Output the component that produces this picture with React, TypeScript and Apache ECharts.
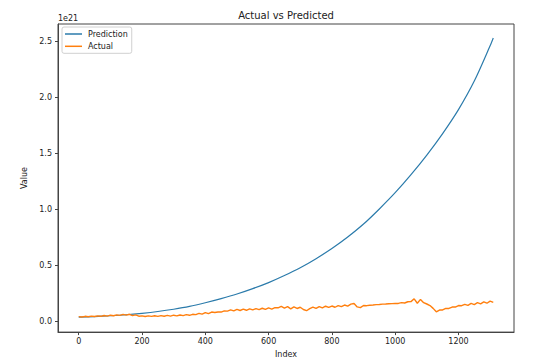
import React, { useEffect, useRef } from "react";
import * as echarts from "echarts";

// values are in units of 1e21
const TITLE = "Actual vs Predicted";
const X_NAME = "Index";
const Y_NAME = "Value";
const Y_OFFSET_TEXT = "1e21";
const SERIES_NAMES = ["Prediction", "Actual"];

const PRED_INDEX = [
  0, 50, 100, 150, 200, 250, 300, 350, 400, 450, 500, 550, 600, 650, 700, 750,
  800, 850, 900, 950, 1000, 1050, 1100, 1150, 1200, 1250, 1300, 1310,
];
const PREDICTION = [
  0.036, 0.042, 0.049, 0.058, 0.071, 0.087, 0.107, 0.132, 0.165, 0.202, 0.243,
  0.291, 0.345, 0.408, 0.478, 0.559, 0.649, 0.752, 0.868, 1.003, 1.148, 1.309,
  1.484, 1.676, 1.89, 2.145, 2.46, 2.53,
];

const ACTUAL_STEP = 10;
const ACTUAL = [
  0.041, 0.038, 0.044, 0.04, 0.046, 0.042, 0.048, 0.044, 0.051, 0.046,
  0.054, 0.049, 0.057, 0.052, 0.061, 0.055, 0.062, 0.05, 0.057, 0.045,
  0.048, 0.042, 0.048, 0.043, 0.049, 0.044, 0.05, 0.045, 0.052, 0.046,
  0.054, 0.048, 0.056, 0.05, 0.059, 0.053, 0.062, 0.059, 0.07, 0.063,
  0.077, 0.068, 0.082, 0.078, 0.083, 0.082, 0.093, 0.09, 0.101, 0.092,
  0.106, 0.096, 0.108, 0.098, 0.111, 0.101, 0.113, 0.104, 0.116, 0.106,
  0.119, 0.109, 0.122, 0.12, 0.133, 0.117, 0.13, 0.11, 0.128, 0.114,
  0.125, 0.105, 0.094, 0.113, 0.127, 0.115, 0.131, 0.119, 0.134, 0.123,
  0.136, 0.125, 0.14, 0.13, 0.145, 0.135, 0.153, 0.158, 0.128, 0.121,
  0.141, 0.139, 0.143, 0.145, 0.148, 0.15, 0.153, 0.154, 0.156, 0.157,
  0.16, 0.159, 0.166, 0.163, 0.174, 0.175, 0.2, 0.161, 0.195, 0.166,
  0.154, 0.14, 0.115, 0.084, 0.1, 0.101, 0.115, 0.114, 0.127, 0.127,
  0.14, 0.139, 0.151, 0.142, 0.159, 0.149, 0.166, 0.155, 0.173, 0.161,
  0.18, 0.169,
];

const X_MIN = -65.5;
const X_MAX = 1375.5;
const Y_MIN = -0.097;
const Y_MAX = 2.655;

const FONT = "DejaVu Sans";
const TEXT_COLOR = "#222";
const FRAME_COLOR = "#444";

export default function App() {
  const ref = useRef<HTMLDivElement>(null);

  useEffect(() => {
    if (!ref.current) return;
    const chart = echarts.init(ref.current, undefined, { renderer: "svg" });

    const predData = PRED_INDEX.map((x, i) => [x, PREDICTION[i]]);
    const actualData = ACTUAL.map((v, i) => [i * ACTUAL_STEP, v]);

    chart.setOption({
      animation: false,
      backgroundColor: "#fff",
      textStyle: { fontFamily: FONT },
      grid: {
        left: 58,
        right: 26,
        top: 24,
        bottom: 28,
        show: true,
        borderColor: FRAME_COLOR,
        borderWidth: 1,
        backgroundColor: "transparent",
      },
      graphic: [
        {
          type: "text",
          x: 286,
          y: 15,
          style: {
            text: TITLE,
            align: "center",
            verticalAlign: "middle",
            fontFamily: FONT,
            fontSize: 10,
            fill: TEXT_COLOR,
          },
        },
        {
          type: "text",
          x: 58,
          y: 22,
          style: {
            text: Y_OFFSET_TEXT,
            align: "left",
            verticalAlign: "bottom",
            fontFamily: FONT,
            fontSize: 8,
            fill: TEXT_COLOR,
          },
        },
      ],
      legend: {
        orient: "vertical",
        left: 62,
        top: 27,
        data: SERIES_NAMES,
        icon: "rect",
        itemWidth: 17,
        itemHeight: 1.5,
        itemGap: 2.3,
        padding: [2, 4, 2, 3],
        borderColor: "#d0d0d0",
        borderWidth: 1,
        borderRadius: 2,
        backgroundColor: "rgba(255,255,255,0.8)",
        textStyle: {
          fontFamily: FONT,
          fontSize: 8,
          color: TEXT_COLOR,
          lineHeight: 10,
          padding: [0, 0, 0, 1],
        },
      },
      xAxis: {
        type: "value",
        min: X_MIN,
        max: X_MAX,
        splitNumber: 7,
        minInterval: 200,
        maxInterval: 200,
        name: X_NAME,
        nameLocation: "middle",
        nameGap: 16,
        nameTextStyle: { fontFamily: FONT, fontSize: 8, color: TEXT_COLOR },
        axisLine: {
          show: true,
          onZero: false,
          lineStyle: { color: FRAME_COLOR, width: 1 },
        },
        axisTick: { show: true, length: 3, lineStyle: { color: FRAME_COLOR } },
        axisLabel: {
          showMinLabel: false,
          showMaxLabel: false,
          margin: 5,
          fontFamily: FONT,
          fontSize: 8,
          color: TEXT_COLOR,
          formatter: (v: number) => String(Math.round(v)),
        },
        splitLine: { show: false },
      },
      yAxis: {
        type: "value",
        min: Y_MIN,
        max: Y_MAX,
        splitNumber: 5,
        minInterval: 0.5,
        maxInterval: 0.5,
        name: Y_NAME,
        nameLocation: "middle",
        nameGap: 24,
        nameTextStyle: { fontFamily: FONT, fontSize: 8, color: TEXT_COLOR },
        axisLine: {
          show: true,
          onZero: false,
          lineStyle: { color: FRAME_COLOR, width: 1 },
        },
        axisTick: { show: true, length: 3, lineStyle: { color: FRAME_COLOR } },
        axisLabel: {
          showMinLabel: false,
          showMaxLabel: false,
          margin: 6,
          fontFamily: FONT,
          fontSize: 8,
          color: TEXT_COLOR,
          formatter: (v: number) => v.toFixed(1),
        },
        splitLine: { show: false },
      },
      series: [
        {
          name: SERIES_NAMES[0],
          type: "line",
          data: predData,
          showSymbol: false,
          symbol: "none",
          smooth: 0.3,
          lineStyle: { color: "#2b7bab", width: 1.2 },
          itemStyle: { color: "#2b7bab" },
          z: 2,
        },
        {
          name: SERIES_NAMES[1],
          type: "line",
          data: actualData,
          showSymbol: false,
          symbol: "none",
          lineStyle: { color: "#ff7f0e", width: 1.4 },
          itemStyle: { color: "#ff7f0e" },
          z: 3,
        },
      ],
    });

    return () => chart.dispose();
  }, []);

  return (
    <div
      ref={ref}
      style={{ position: "absolute", left: 0, top: 0, width: 540, height: 363 }}
    />
  );
}
